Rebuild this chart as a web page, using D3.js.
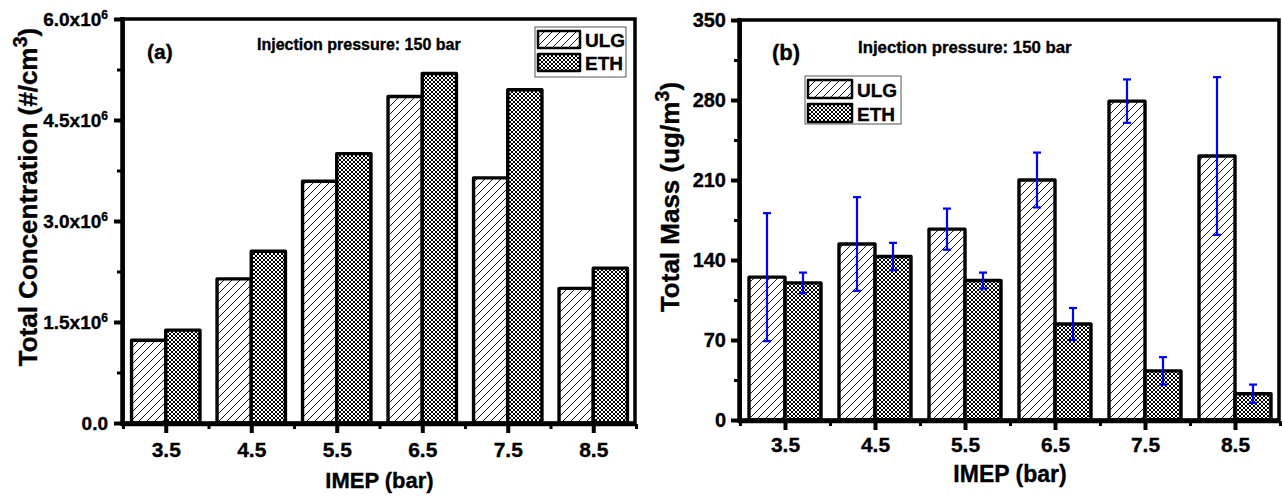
<!DOCTYPE html>
<html>
<head>
    <title>IMEP bars</title>
    <meta charset="utf-8">
    <script src="https://cdnjs.cloudflare.com/ajax/libs/d3/7.8.5/d3.min.js"></script>
    <style>
        body { margin: 0; background: #fff; }
        svg text { font-family: "Liberation Sans", Arial, sans-serif; font-weight: bold; fill: #000;
                   stroke: #000; stroke-width: 0.35px; }
    </style>
</head>
<body>
<svg id="chart" width="1282" height="498"></svg>
<script>
// data
var imep = [3.5, 4.5, 5.5, 6.5, 7.5, 8.5];
var seriesNames = ["ULG", "ETH"];

// (a) total concentration (#/cm3)
var concULG = [1.23e6, 2.14e6, 3.59e6, 4.85e6, 3.64e6, 2.00e6];
var concETH = [1.38e6, 2.55e6, 4.00e6, 5.19e6, 4.95e6, 2.30e6];
var concTicks = [0, 1.5e6, 3.0e6, 4.5e6, 6.0e6];

// (b) total mass (ug/m3) with error bars
var massULG = [125, 154, 167, 210, 279, 231];
var massULGErr = [56, 41, 18, 24, 19, 69];
var massETH = [120, 143, 122, 84, 43, 23];
var massETHErr = [9, 12, 7, 14, 12, 8];
var massTicks = [0, 70, 140, 210, 280, 350];

var svg = d3.select("#chart");

// fill patterns
var defs = svg.append("defs");
var hatch = defs.append("pattern").attr("id", "hatch")
    .attr("patternUnits", "userSpaceOnUse").attr("width", 8).attr("height", 8);
hatch.append("rect").attr("width", 8).attr("height", 8).attr("fill", "#fff");
hatch.append("path").attr("d", "M-2,2 L2,-2 M0,8 L8,0 M6,10 L10,6")
    .attr("stroke", "#000").attr("stroke-width", 0.9);

var cross = defs.append("pattern").attr("id", "cross")
    .attr("patternUnits", "userSpaceOnUse").attr("width", 4).attr("height", 4);
cross.append("rect").attr("width", 4).attr("height", 4).attr("fill", "#fff");
cross.append("path").attr("d", "M0,0 L4,4 M4,0 L0,4")
    .attr("stroke", "#000").attr("stroke-width", 1);

var fills = ["url(#hatch)", "url(#cross)"];

function sciLabel(sel, d) {
    if (d === 0) { sel.text("0.0"); return; }
    var m = (d / 1e6).toFixed(1);
    sel.text(null);
    sel.append("tspan").text(m + "x10");
    sel.append("tspan").attr("dy", -7).attr("font-size", "12px").text("6");
}

function drawPanel(p) {
    var x = d3.scaleLinear().domain([3, 9]).range([p.x0, p.x1]);
    var y = d3.scaleLinear().domain([0, p.yMax]).range([p.y0, p.y1]);
    var step = x(4) - x(3);
    var bw = step * 0.4;
    var g = svg.append("g");

    // bars
    p.series.forEach(function (vals, s) {
        g.selectAll(null)
            .data(vals)
            .enter()
            .append("rect")
            .attr("x", function (d, i) { return x(imep[i]) - bw + s * bw; })
            .attr("y", function (d) { return y(d); })
            .attr("width", bw)
            .attr("height", function (d) { return y(0) - y(d); })
            .attr("fill", fills[s])
            .attr("stroke", "#000")
            .attr("stroke-width", 3.4)
            .attr("stroke-linejoin", "round");
    });

    // error bars
    if (p.errors) {
        p.errors.forEach(function (errs, s) {
            var vals = p.series[s];
            var eg = g.selectAll(null).data(errs).enter().append("g")
                .attr("stroke", "#0000ff").attr("stroke-width", 2.2);
            eg.append("line")
                .attr("x1", function (d, i) { return x(imep[i]) - bw / 2 + s * bw; })
                .attr("x2", function (d, i) { return x(imep[i]) - bw / 2 + s * bw; })
                .attr("y1", function (d, i) { return y(vals[i] + d); })
                .attr("y2", function (d, i) { return y(vals[i] - d); });
            [1, -1].forEach(function (sign) {
                eg.append("line")
                    .attr("x1", function (d, i) { return x(imep[i]) - bw / 2 + s * bw - 4; })
                    .attr("x2", function (d, i) { return x(imep[i]) - bw / 2 + s * bw + 4; })
                    .attr("y1", function (d, i) { return y(vals[i] + sign * d); })
                    .attr("y2", function (d, i) { return y(vals[i] + sign * d); });
            });
        });
    }

    // frame
    g.append("rect")
        .attr("x", p.x0).attr("y", p.y1)
        .attr("width", p.x1 - p.x0 - 1).attr("height", p.y0 - p.y1)
        .attr("fill", "none").attr("stroke", "#000").attr("stroke-width", 3.5);
    g.append("line").attr("x1", p.x0 - 0.5).attr("x2", p.x0 - 0.5)
        .attr("y1", p.y1 - 2).attr("y2", p.y0 + 3)
        .attr("stroke", "#000").attr("stroke-width", 4.5);
    g.append("line").attr("x1", p.x0 - 2).attr("x2", p.x1)
        .attr("y1", p.y0 + 1).attr("y2", p.y0 + 1)
        .attr("stroke", "#000").attr("stroke-width", 4.5);

    // x axis
    var xAxis = d3.axisBottom(x).tickValues(imep).tickSize(9).tickPadding(p.xPad)
        .tickFormat(d3.format(".1f"));
    var xg = g.append("g").attr("transform", "translate(0," + (p.y0 + 1) + ")").call(xAxis);
    xg.select(".domain").remove();
    xg.selectAll("line").attr("stroke", "#000").attr("stroke-width", 4);
    xg.selectAll("text").attr("font-size", "21px").attr("font-family", null);
    var xMinor = d3.axisBottom(x).tickValues([3, 4, 5, 6, 7, 8, 9]).tickSize(5).tickFormat("");
    var xm = g.append("g").attr("transform", "translate(0," + (p.y0 + 1) + ")").call(xMinor);
    xm.select(".domain").remove();
    xm.selectAll("line").attr("stroke", "#000").attr("stroke-width", 3);

    // y axis
    var yAxis = d3.axisLeft(y).tickValues(p.ticks).tickSize(8).tickPadding(p.yPad);
    var yg = g.append("g").attr("transform", "translate(" + (p.x0 - 1) + ",0)").call(yAxis);
    yg.select(".domain").remove();
    yg.selectAll("line").attr("stroke", "#000").attr("stroke-width", 4);
    yg.selectAll("text").attr("font-size", p.yTickSize + "px").attr("font-family", null)
        .each(function (d) { p.label(d3.select(this), d); });
    var minor = [];
    for (var i = 0; i < p.ticks.length - 1; i++) minor.push((p.ticks[i] + p.ticks[i + 1]) / 2);
    var yMinor = d3.axisLeft(y).tickValues(minor).tickSize(5).tickFormat("");
    var ym = g.append("g").attr("transform", "translate(" + (p.x0 - 1) + ",0)").call(yMinor);
    ym.select(".domain").remove();
    ym.selectAll("line").attr("stroke", "#000").attr("stroke-width", 3);

    // axis titles
    g.append("text")
        .attr("x", (p.x0 + p.x1) / 2).attr("y", p.xTitleY)
        .attr("text-anchor", "middle").attr("font-size", p.xTitleSize + "px")
        .text("IMEP (bar)");
    var yt = g.append("text")
        .attr("transform", "translate(" + p.yTitleX + ",197) rotate(-90)")
        .attr("text-anchor", "middle").attr("font-size", p.yTitleSize + "px");
    yt.append("tspan").text(p.yTitle);
    yt.append("tspan").attr("dy", -10).attr("font-size", "20px").text("3");
    yt.append("tspan").attr("dy", 10).text(")");

    // annotations
    g.append("text").attr("x", p.tagX).attr("y", p.tagY)
        .attr("font-size", p.tagSize + "px").text(p.tag);
    g.append("text").attr("x", p.noteX).attr("y", p.noteY)
        .attr("font-size", p.noteSize + "px").attr("stroke-width", 0.2).text("Injection pressure: 150 bar");

    // legend
    var L = p.legend;
    g.append("rect").attr("x", L.x).attr("y", L.y).attr("width", L.w).attr("height", L.h)
        .attr("fill", "#fff").attr("stroke", "#555").attr("stroke-width", 1);
    seriesNames.forEach(function (name, s) {
        g.append("rect")
            .attr("x", L.x + 3).attr("y", L.y + 4 + s * L.row)
            .attr("width", L.sw).attr("height", L.sh)
            .attr("fill", fills[s]).attr("stroke", "#000")
            .attr("stroke-width", 2.5).attr("stroke-linejoin", "round");
        g.append("text")
            .attr("x", L.x + L.sw + 8).attr("y", L.y + 4 + s * L.row + L.sh - 1)
            .attr("font-size", "19px").text(name);
    });
}

drawPanel({
    x0: 123, x1: 636, y0: 423, y1: 19, yMax: 6e6,
    series: [concULG, concETH], ticks: concTicks, label: sciLabel,
    xPad: 9, yPad: 6, yTickSize: 19,
    xTitleY: 488, xTitleSize: 22,
    yTitleX: 37, yTitleSize: 26, yTitle: "Total Concentration (#/cm",
    tag: "(a)", tagX: 147, tagY: 59, tagSize: 21,
    noteX: 257, noteY: 50, noteSize: 16,
    legend: { x: 535, y: 27, w: 91, h: 50, sw: 42, sh: 17, row: 23 }
});

drawPanel({
    x0: 740, x1: 1280, y0: 420, y1: 20, yMax: 350,
    series: [massULG, massETH], errors: [massULGErr, massETHErr],
    ticks: massTicks, label: function (sel, d) { sel.text(d); },
    xPad: 7, yPad: 5, yTickSize: 20,
    xTitleY: 482, xTitleSize: 23,
    yTitleX: 679, yTitleSize: 26, yTitle: "Total Mass (ug/m",
    tag: "(b)", tagX: 772, tagY: 60, tagSize: 22,
    noteX: 858, noteY: 53, noteSize: 16.8,
    legend: { x: 805, y: 76, w: 96, h: 48, sw: 44, sh: 18, row: 24 }
});
</script>
</body>
</html>
